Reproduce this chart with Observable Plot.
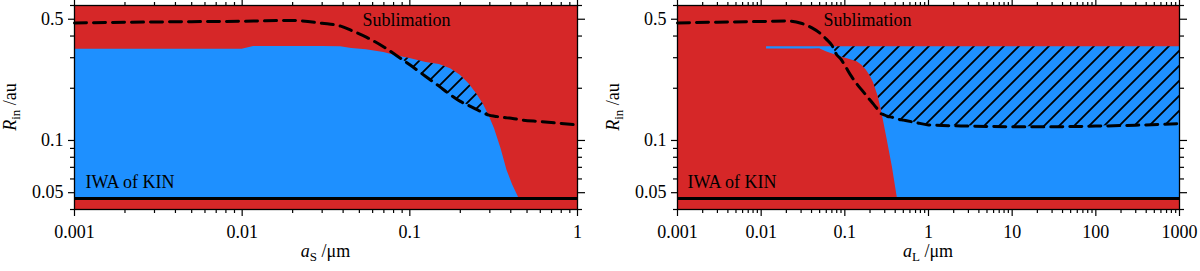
<!DOCTYPE html>
<html><head><meta charset="utf-8">
<script src="https://cdn.jsdelivr.net/npm/d3@7"></script>
<script src="https://cdn.jsdelivr.net/npm/@observablehq/plot@0.6"></script>
<style>
html,body{margin:0;padding:0;background:#fff;}
#wrap{display:flex;width:1200px;height:271px;overflow:hidden;}
svg text{font-family:"Liberation Serif","Times New Roman",Times,"DejaVu Serif",serif !important;}
</style></head><body><div id="wrap"></div>
<script>
const RED = "#d62728", BLUE = "#1e90ff";
const FONT = "'Liberation Serif', 'Times New Roman', Times, 'DejaVu Serif', serif";
const iwa = 0.0463;        // IWA of KIN (au)
const blueTopL = 0.347;    // upper edge of blue region, right panel

// Left panel: small grains a_S
const xS    = [0.001, 0.003, 0.01, 0.0117, 0.02, 0.03, 0.0387, 0.045, 0.055, 0.07, 0.084, 0.1, 0.125, 0.15, 0.175, 0.2, 0.225, 0.25, 0.275, 0.296, 0.32, 0.35, 0.38, 0.41, 0.448, 0.6, 1];
const blueS = [0.336, 0.336, 0.336, 0.348, 0.348, 0.348, 0.347, 0.339, 0.333, 0.322, 0.307, 0.297, 0.282, 0.274, 0.259, 0.238, 0.212, 0.186, 0.161, 0.140, 0.117, 0.0895, 0.0672, 0.0556, 0.0463, 0.0463, 0.0463];
const sublS = [0.476, 0.482, 0.487, 0.488, 0.492, 0.474, 0.456, 0.43, 0.394, 0.346, 0.307, 0.273, 0.233, 0.205, 0.183, 0.168, 0.159, 0.151, 0.144, 0.140, 0.138, 0.1365, 0.135, 0.134, 0.132, 0.1285, 0.123];

// Right panel: large grains a_L
const xL     = [0.001, 0.003, 0.0116, 0.02, 0.03, 0.04, 0.05, 0.06, 0.07, 0.08, 0.09, 0.1, 0.12, 0.14, 0.16, 0.18, 0.2, 0.22, 0.25, 0.27, 0.29, 0.32, 0.37, 0.425, 0.5, 0.7, 1, 3, 10, 30, 100, 300, 1000];
const boundL = [null, null, 0.337, 0.337, 0.337, 0.337, 0.338, 0.325, 0.316, 0.309, 0.303, 0.299, 0.2915, 0.284, 0.271, 0.255, 0.236, 0.216, 0.179, 0.1535, 0.1296, 0.1017, 0.0704, 0.0463, 0.0463, 0.0463, 0.0463, 0.0463, 0.0463, 0.0463, 0.0463, 0.0463, 0.0463];
const sublL  = [0.476, 0.481, 0.486, 0.489, 0.474, 0.447, 0.417, 0.384, 0.354, 0.312, 0.294, 0.271, 0.234, 0.211, 0.195, 0.182, 0.171, 0.162, 0.150, 0.143, 0.141, 0.138, 0.136, 0.133, 0.131, 0.127, 0.123, 0.121, 0.120, 0.120, 0.121, 0.1225, 0.125];

// Ticks
const xTicksS = [0.001, 0.01, 0.1, 1];
const xTicksL = [0.001, 0.01, 0.1, 1, 10, 100, 1000];
const yTicks  = [0.05, 0.1, 0.5];
const yMinor  = [0.04, 0.06, 0.07, 0.08, 0.09, 0.2, 0.3, 0.4, 0.6];

const labels = {sub: "Sublimation", iwa: "IWA of KIN"};

function minorOf(majors) {
  const out = [];
  for (let i = 0; i < majors.length - 1; i++)
    for (let k = 2; k <= 9; k++) out.push(+(k * majors[i]).toPrecision(6));
  return out;
}

function axes(xMaj) {
  const xMin = minorOf(xMaj);
  const none = () => "";
  const sw = 1.2;
  return [
    Plot.axisX({ticks: xMaj, anchor: "bottom", tickSize: 7, tickPadding: 9, tickFormat: d => String(d), label: null, strokeWidth: sw}),
    Plot.axisX({ticks: xMin, anchor: "bottom", tickSize: 4, tickFormat: none, label: null, strokeWidth: sw}),
    Plot.axisX({ticks: xMaj, anchor: "top", tickSize: 7, tickFormat: none, label: null, strokeWidth: sw}),
    Plot.axisX({ticks: xMin, anchor: "top", tickSize: 4, tickFormat: none, label: null, strokeWidth: sw}),
    Plot.axisY({ticks: yTicks, anchor: "left", tickSize: 6, tickPadding: 5, tickFormat: d => String(d), label: null, strokeWidth: sw}),
    Plot.axisY({ticks: yMinor, anchor: "left", tickSize: 4, tickFormat: none, label: null, strokeWidth: sw}),
    Plot.axisY({ticks: yTicks, anchor: "right", tickSize: 7, tickFormat: none, label: null, strokeWidth: sw}),
    Plot.axisY({ticks: yMinor, anchor: "right", tickSize: 4, tickFormat: none, label: null, strokeWidth: sw})
  ];
}

function addHatch(svg, id) {
  const s = 15;
  const defs = d3.select(svg).insert("defs", ":first-child");
  const p = defs.append("pattern").attr("id", id).attr("patternUnits", "userSpaceOnUse")
    .attr("width", s).attr("height", s);
  p.append("path").attr("d", `M-2,2 L2,-2 M0,${s} L${s},0 M${s-2},${s+2} L${s+2},${s-2}`)
    .attr("stroke", "black").attr("stroke-width", 1.8).attr("fill", "none");
}

function addLabels(svg, ml, mr, W, sym, sub, unit) {
  const sel = d3.select(svg);
  const cx = (ml + W - mr) / 2;
  const t = sel.append("text").attr("x", cx).attr("y", 257).attr("text-anchor", "middle")
    .style("font-family", FONT).attr("font-size", 18).attr("fill", "black");
  t.append("tspan").attr("font-style", "italic").text(sym);
  t.append("tspan").attr("font-size", 13).attr("dy", 4).text(sub);
  t.append("tspan").attr("dy", -4).text(unit);
  const yl = sel.append("text").attr("transform", `translate(${ml - 58},107) rotate(-90)`)
    .attr("text-anchor", "middle").style("font-family", FONT).attr("font-size", 18).attr("fill", "black");
  yl.append("tspan").attr("font-style", "italic").text("R");
  yl.append("tspan").attr("font-size", 13).attr("dy", 4).text("in");
  yl.append("tspan").attr("dy", -4).text(" /au");
}

const W = 600, H = 271;
const common = {
  width: W, height: H, marginTop: 5, marginBottom: 62,
  y: {type: "log", domain: [0.04, 0.6]},
  style: {fontFamily: FONT, fontSize: "18px", color: "black", background: "white", overflow: "visible"}
};

// Left
const rowsS = xS.map((x, i) => ({x, blue: blueS[i], subl: sublS[i]}));
const mlS = 74, mrS = 23;
const svgS = Plot.plot({
  ...common, marginLeft: mlS, marginRight: mrS,
  x: {type: "log", domain: [0.001, 1]},
  marks: [
    Plot.frame({fill: RED, stroke: "none"}),
    Plot.areaY(rowsS, {x: "x", y1: () => iwa, y2: "blue", fill: BLUE}),
    Plot.areaY(rowsS, {x: "x", y1: "subl", y2: d => Math.max(d.blue, d.subl), fill: "url(#hatchS)"}),
    Plot.line(rowsS, {x: "x", y: "subl", stroke: "black", strokeWidth: 3, strokeDasharray: "12,7", curve: "monotone-x"}),
    Plot.ruleY([iwa], {stroke: "black", strokeWidth: 3}),
    Plot.text([labels.sub], {text: d => d, frameAnchor: "top-left", dx: 288, dy: 20, textAnchor: "start", lineAnchor: "bottom", fontSize: 18}),
    Plot.text([labels.iwa], {text: d => d, frameAnchor: "bottom-left", dx: 11, dy: -22, textAnchor: "start", lineAnchor: "bottom", fontSize: 18}),
    ...axes(xTicksS),
    Plot.frame({stroke: "black", strokeWidth: 1.3})
  ]
});
addHatch(svgS, "hatchS");
addLabels(svgS, mlS, mrS, W, "a", "S", " /\u03bcm");

// Right
const rowsL = xL.map((x, i) => ({x, bound: boundL[i], subl: sublL[i]}));
const mlL = 77, mrL = 21;
const svgL = Plot.plot({
  ...common, marginLeft: mlL, marginRight: mrL,
  x: {type: "log", domain: [0.001, 1000]},
  marks: [
    Plot.frame({fill: RED, stroke: "none"}),
    Plot.areaY(rowsL, {x: "x", y1: "bound", y2: d => d.bound == null ? null : blueTopL, fill: BLUE}),
    Plot.areaY(rowsL, {x: "x",
      y1: d => d.bound == null ? null : Math.max(d.subl, d.bound),
      y2: d => d.bound == null ? null : Math.max(blueTopL, d.subl, d.bound),
      fill: "url(#hatchL)"}),
    Plot.line(rowsL, {x: "x", y: "subl", stroke: "black", strokeWidth: 3, strokeDasharray: "12,7", curve: "monotone-x"}),
    Plot.ruleY([iwa], {stroke: "black", strokeWidth: 3}),
    Plot.text([labels.sub], {text: d => d, frameAnchor: "top-left", dx: 146, dy: 20.5, textAnchor: "start", lineAnchor: "bottom", fontSize: 18}),
    Plot.text([labels.iwa], {text: d => d, frameAnchor: "bottom-left", dx: 10, dy: -22, textAnchor: "start", lineAnchor: "bottom", fontSize: 18}),
    ...axes(xTicksL),
    Plot.frame({stroke: "black", strokeWidth: 1.3})
  ]
});
addHatch(svgL, "hatchL");
addLabels(svgL, mlL, mrL, W, "a", "L", " /\u03bcm");

const wrap = document.getElementById("wrap");
wrap.appendChild(svgS);
wrap.appendChild(svgL);
</script></body></html>
